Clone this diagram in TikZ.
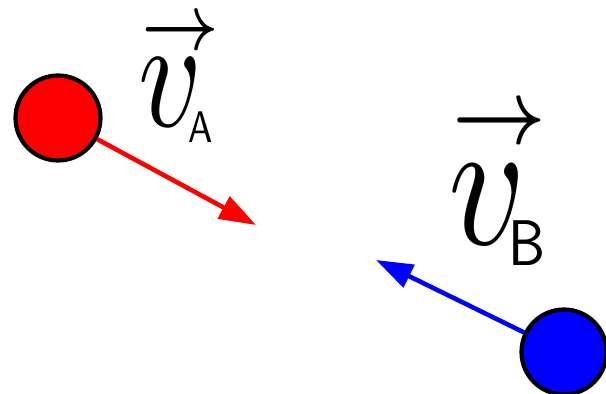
\documentclass[tikz,border=0pt]{standalone}
\usetikzlibrary{arrows.meta}
\tikzset{
  ball/.style={circle, draw=black, line width=2.4pt, minimum size=1.7cm, inner sep=0pt},
  velarrow/.style={line width=2.6pt, -{Triangle[length=21pt, width=14pt]}},
  vellabel/.style={inner sep=0pt, anchor=base west}
}
% #1 Index, #2 Hoehe des Pfeils, #3 Rueckschub, #4 Absenkung, #5 Groesse
\newcommand{\vlabel}[5]{\makebox[0pt][l]{\raisebox{#2}{$\scriptscriptstyle\rightarrow$}}$v$\kern-#3\raisebox{-#4}{\fontsize{#5}{#5}\selectfont\sffamily #1}}

\begin{document}
\begin{tikzpicture}[x=0.02cm, y=-0.02cm]
    \useasboundingbox (0,0) rectangle (606,394);
    % Kugeln
    \node[ball, fill=red] (ballA) at (58,118) {};
    \node[ball, fill=blue] (ballB) at (564,352) {};
    % Geschwindigkeiten
    \coordinate (tipA) at (256,225);
    \coordinate (tipB) at (376,260);
    \draw[velarrow, red] (ballA) -- (tipA);
    \draw[velarrow, blue] (ballB) -- (tipB);
    % Beschriftung
    \node[vellabel, xscale=7, yscale=9] (labelA) at (136,127) {\vlabel{A}{4.9pt}{1.1pt}{1pt}{2.8pt}};
    \node[vellabel, xscale=8.5, yscale=10.5] (labelB) at (446,245) {\vlabel{B}{5.5pt}{1.2pt}{1.1pt}{3.5pt}};
\end{tikzpicture}
\end{document}
